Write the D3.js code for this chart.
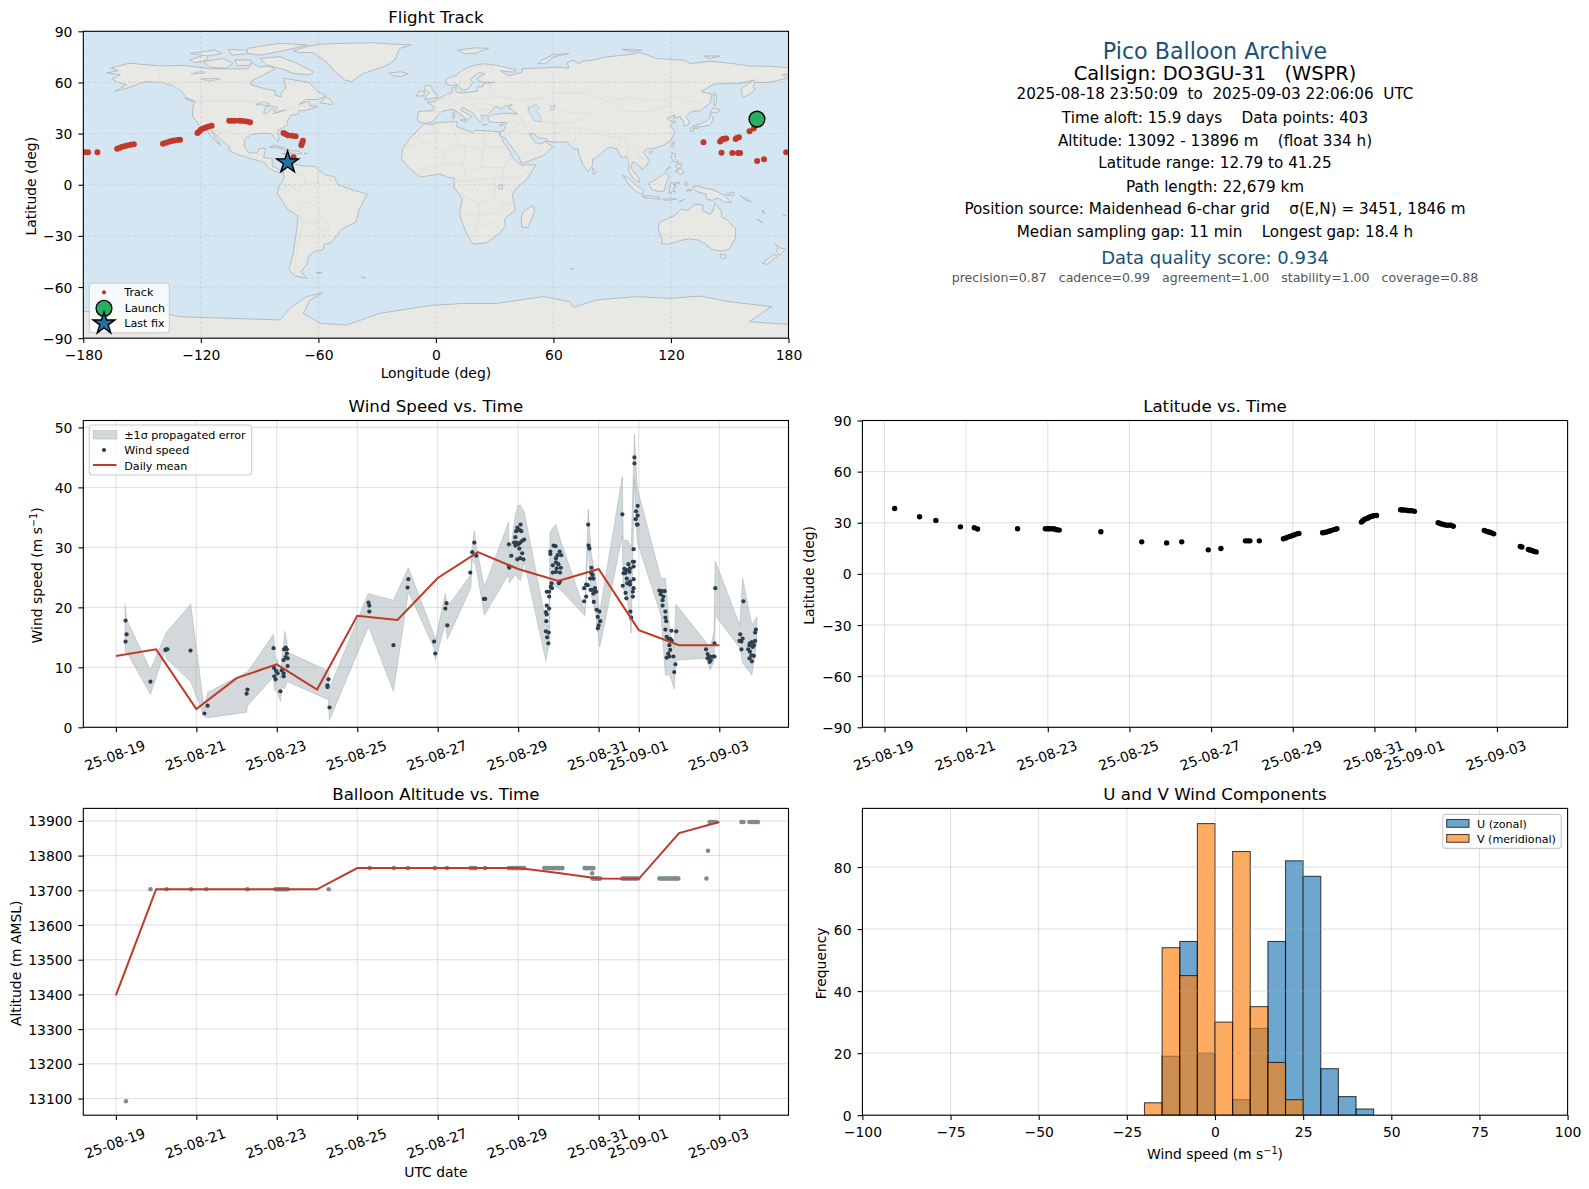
<!DOCTYPE html>
<html><head><meta charset="utf-8">
<script src="https://cdn.jsdelivr.net/npm/d3@7/dist/d3.min.js"></script>
<style>html,body{margin:0;padding:0;background:#fff}svg{display:block}text{font-family:"DejaVu Sans",sans-serif;fill:#000}</style>
</head><body><svg id="c" width="1589" height="1189" xmlns="http://www.w3.org/2000/svg"></svg>
<script>
// ---------- data ----------
const infoLines = [
 ["Pico Balloon Archive",22.2,"#1a5276"],
 ["Callsign: DO3GU-31   (WSPR)",19.4,"#000"],
 ["2025-08-18 23:50:09  to  2025-09-03 22:06:06  UTC",15.2,"#000"],
 ["Time aloft: 15.9 days    Data points: 403",15.2,"#000"],
 ["Altitude: 13092 - 13896 m    (float 334 h)",15.2,"#000"],
 ["Latitude range: 12.79 to 41.25",15.2,"#000"],
 ["Path length: 22,679 km",15.2,"#000"],
 ["Position source: Maidenhead 6-char grid    σ(E,N) = 3451, 1846 m",15.2,"#000"],
 ["Median sampling gap: 11 min    Longest gap: 18.4 h",15.2,"#000"],
 ["Data quality score: 0.934",18,"#1a5276"],
 ["precision=0.87   cadence=0.99   agreement=1.00   stability=1.00   coverage=0.88",12.55,"#555"]
];
const dateTicks = ["2025-08-19","2025-08-21","2025-08-23","2025-08-25","2025-08-27","2025-08-29","2025-08-31","2025-09-01","2025-09-03"];
const lonTicks = [-180,-120,-60,0,60,120,180];
const latTicks = [-90,-60,-30,0,30,60,90];
const windTicks = [0,10,20,30,40,50];
const altTicks = [13100,13200,13300,13400,13500,13600,13700,13800,13900];
const histXTicks = [-100,-75,-50,-25,0,25,50,75,100];
const histYTicks = [0,20,40,60,80];

const landPolygons = [
 // Eurasia
 [[-9,37],[-9.5,38.8],[-8.8,43],[-1.5,43.5],[-1,46],[-4.5,48.4],[-1.5,48.7],[1.5,50.5],[4,52],[6,53.5],[8.5,54],[8.2,56.5],[10.5,57.7],[10,55],[11,54],[14,54],[19,54.5],[21,55],[21.5,57.5],[24,57.5],[24,59.4],[30,60],[25,60.2],[21.5,60.8],[21.5,63],[25,65],[22,65.8],[17.5,62],[18.8,60],[16.5,56.5],[14.3,55.5],[12.8,55.8],[11,59],[8,58],[5.5,59],[5,62],[10,64],[14,67.5],[19,70],[25,71],[31,70],[41,67.5],[40,66],[35,66.5],[33,66.8],[37,64],[40,64.7],[44,66],[44,68],[54,68.5],[60,69],[68,68.5],[67,71.5],[70,73],[73,71],[75,72.5],[80,73],[87,75],[100,76.5],[104,77.7],[113,74],[127,73],[130,71],[140,72.5],[152,71],[160,69.7],[170,69.5],[178,68.8],[181,68.5],[181,65],[177,64.5],[179.5,62.5],[170,60],[163,60],[162,57.5],[163,56],[160,53],[156.8,51],[155.7,56],[159,59],[163,61.5],[155,59.5],[150,59.5],[142,59],[135.5,54.7],[141,53],[140,48],[135,43.5],[132,43],[130,42.5],[127.5,39.8],[129.4,37],[129,35.2],[126.5,34.5],[126.5,37.5],[125,38.5],[125,40],[121.5,39],[122,41],[118,39],[119.5,37.5],[122.5,37],[119.5,35],[122,31],[120,26],[116,23],[110,21],[108,21.5],[106,19],[109,14],[107,10.5],[105,8.8],[104.9,10],[102,12.5],[100.5,13.5],[99.5,10],[103.5,4],[104,1.3],[101,3],[98.5,8],[98.5,13],[97.5,16.5],[94.5,16],[92.5,21],[89,22],[87,21],[82.5,16.5],[80,15],[79.8,10.5],[77.5,8],[75,12],[73,18],[72.5,21],[70.5,21],[69,22.5],[67,25],[61.5,25],[57,25.5],[56.5,27],[52,27.5],[50,30],[48,30],[48.5,28.5],[50.5,25],[51.5,24.5],[54,24],[56.4,26],[56.5,24.5],[59.8,22.5],[55.5,17.5],[52,16],[45,12.8],[43.3,12.8],[42.5,16.5],[39,21.5],[35,28],[34.5,28],[33.5,28],[32.6,30],[32.5,31],[34.5,31.5],[36,36.5],[30.5,36.5],[27,37],[26.5,39.5],[29,41],[35,42],[41.5,41.5],[39,44],[37,45],[39,47],[35,46],[33.5,44.5],[30.5,46],[28,43],[26,40.5],[23,40.5],[24,38],[22.5,36.5],[19.5,41],[19,42],[13.5,45.5],[12.5,44],[18.5,40],[16,38],[12,42],[8.8,44.3],[3,43],[0,39.5],[-2,36.8],[-5.5,36]],
 // Africa
 [[-6,35.8],[-10,31],[-13,27.5],[-17,21],[-17.5,14.7],[-13,9],[-8,4.5],[-4,5.2],[2,6.3],[6,4.3],[9.5,4],[9,-1],[13.5,-8],[12,-17],[15,-27],[18.5,-34.3],[20,-34.8],[26,-34],[32.5,-28.5],[35.5,-24],[35,-20],[40.5,-15],[39,-6],[41.5,-1.5],[47,4],[51,11.8],[43.5,11.5],[39.5,15.5],[37.5,20],[35,24],[33,28.5],[32.5,30],[32.5,31],[25,31.7],[20,32],[19,30.3],[15,32.3],[10.5,34],[11,37],[1,36.5],[-2,35.2]],
 // North America
 [[-168,65.6],[-162,67],[-166,68.5],[-156.5,71.3],[-141,69.7],[-128,70],[-115,68],[-108,68],[-96,68],[-94,71.5],[-90,69],[-85,69.5],[-82,68],[-87,65],[-94,61],[-94.5,58.7],[-88,56.5],[-82,55],[-82,52.5],[-79,51.5],[-79,54.5],[-76.5,56.5],[-78,62.5],[-70,61],[-65,60],[-60.5,55],[-56,52],[-60,50],[-66.5,50],[-70,47],[-65,49],[-64.5,46.5],[-60.5,46],[-66,43.7],[-70,43.5],[-70,41.7],[-74,40.5],[-76,37],[-75.5,35.3],[-81,31.5],[-80,26.8],[-80.5,25.2],[-82.7,28],[-84,30],[-89,30.3],[-94,29.5],[-97.5,27],[-97.8,22.5],[-95.5,18.7],[-91,18.7],[-90.5,21],[-87,21.5],[-88,16],[-83.5,15.2],[-83.5,11],[-80,9],[-77.5,8.5],[-78,7.5],[-80,7.3],[-83,8.3],[-85.7,10],[-87.5,13],[-92,14.5],[-96,15.8],[-102,18],[-105.5,20.3],[-105.5,22.5],[-109,25.7],[-112.5,29.5],[-114.7,31.7],[-112,26.5],[-109.5,23],[-112,25],[-115.5,29.5],[-117.2,32.5],[-120.5,34.5],[-122.5,37.7],[-124.3,40.3],[-124,46],[-123,49],[-127.5,51],[-130,55],[-134,58],[-140,60],[-148,60.5],[-152,59],[-158,56.5],[-164,54.7],[-158,58.7],[-162,60],[-165.5,62],[-161,64.5]],
 // South America
 [[-77.5,8.5],[-75.5,11],[-72,12],[-68,11],[-62,10.7],[-57,6],[-52,4.8],[-50,0],[-44,-2.5],[-35,-5.5],[-39,-14],[-41,-22],[-48,-26],[-53.5,-34],[-57,-35],[-57.5,-38],[-62,-39],[-65,-42],[-66,-47],[-69,-51],[-65.5,-55],[-72,-53.5],[-75,-50],[-73,-41],[-71.5,-30],[-70.3,-18.5],[-76,-14],[-81,-5],[-80,-1],[-78.5,2],[-77.5,4],[-78,7.5]],
 // Greenland and Arctic islands
 [[-72.8,78.6],[-66,81],[-59,82.5],[-45.6,83],[-32,83.3],[-21.8,82.5],[-12.5,82],[-18.4,80],[-21,73.2],[-23.5,71.2],[-26,69.6],[-37,65.3],[-43,60.5],[-46.5,61.4],[-52.4,67.3],[-55,71.2],[-62.6,77.5],[-69.4,77.5]],
 [[-89.8,74.1],[-79.6,75.1],[-71.1,71.2],[-62.6,66.3],[-64.3,64.4],[-72.8,65.3],[-77.9,67.7],[-86.4,70.2]],
 [[-118.8,72.2],[-108.6,74.1],[-103.5,71.2],[-106.9,68.3],[-115.4,68.9]],
 [[-125.5,73.2],[-116.2,77],[-117,73.2],[-123,71.6]],
 [[-96,80],[-79.6,83],[-66,82],[-76.2,79],[-89.8,76],[-96.6,77.1]],
 [[-125.5,77],[-112.8,79],[-109.4,77],[-116.2,75.5]],
 [[-105.9,79.4],[-97.3,79],[-95.6,77],[-104.2,76]],
 [[-102.8,73.2],[-94.3,73.2],[-94.3,70.2],[-101,69.7]],
 [[-59,48],[-53,47],[-53,49],[-56,51.5]],
 [[-128,50.5],[-124,48.5],[-125.5,50.5]],
 // Iceland, British Isles, Svalbard, Novaya Zemlya, Sakhalin
 [[-24,65.5],[-18,66.3],[-14,65],[-18,63.5],[-22.5,64]],
 [[-5.5,50],[1,51.2],[0,53],[-2,56],[-2,57.6],[-5,58.6],[-6,56],[-3,54],[-5,52]],
 [[-10,52],[-6,52.2],[-6,55],[-9,54.5]],
 [[11,79],[20,80.3],[27,80],[20,77],[15,76.8]],
 [[52,71],[56,71],[60,75],[68,77],[60,76.3],[54,73]],
 [[142,54],[143.5,52],[143,47],[142,46.5],[142,50]],
 [[95,79.5],[105,79],[100,78]],
 [[137,75.5],[145,75.5],[140,74]],
 // Japan and east Asia islands
 [[140,41.5],[141.5,40],[141,37],[139.8,35],[136,34],[132,34],[131,34.5],[135,35.8],[138,37.2],[139.8,39]],
 [[140,42.5],[141.8,45.3],[145.3,43.5],[143,42]],
 [[130,33.5],[132,33],[131,31],[130,31.5]],
 [[132.5,33.8],[134.5,34.2],[134,33],[132.5,33]],
 [[120.2,23],[121,25],[122,25],[121,22]],
 [[108.7,19],[110,20],[111,19.5],[109.5,18.2]],
 [[120.3,16],[120.7,18.5],[122.2,18.3],[122,15.5],[124,13],[121,13.7]],
 [[122,8],[125.5,9.5],[126.5,7],[125.5,5.8],[124,7]],
 [[122.5,11.5],[125.5,12.5],[125,10],[123,9.5]],
 [[117.2,8.5],[119.5,11],[119,10],[118,8.5]],
 // Indonesia and Oceania
 [[95.3,5.5],[98,4],[103,-1],[106,-3],[105.5,-5.8],[102,-4],[99,-0.5]],
 [[105.5,-6.5],[110,-6.5],[114.5,-7.7],[114.3,-8.6],[110,-8],[106,-7.4]],
 [[109,1.5],[111,2],[114,4.5],[117,7],[119,5],[117.7,1],[116.5,-3.5],[114.5,-4],[110.5,-3],[109,-0.5]],
 [[119.5,-5.5],[119,-3],[120,1],[124.5,1.2],[121,0],[123,-1],[121,-2],[122.5,-4.7],[121,-3.5]],
 [[116,-8.3],[120,-8.3],[123,-8.3],[120,-9],[116,-9]],
 [[124,-10],[127,-8.4],[124.5,-9.5]],
 [[127.5,2],[128.5,1],[128,-1],[127.5,0]],
 [[128,-3],[130.8,-3],[128,-3.8]],
 [[131,-1],[134,-0.8],[137,-2],[141,-2.7],[146,-5.5],[147.5,-6.5],[150.8,-10.5],[147,-10],[144,-7.7],[141,-9.2],[138,-8.3],[138,-5.5],[133,-4],[132,-2.8]],
 [[148,-5.7],[152,-4.2],[152,-6],[149,-6.2]],
 [[155,-6],[156,-7],[159,-8.5],[161,-10],[158,-9]],
 [[166.5,-15],[167.2,-15.5],[168,-17],[167,-16.5]],
 [[164,-20],[167,-22.3],[166,-22],[164,-20.5]],
 [[114,-22],[113.5,-26],[115.7,-32],[115,-34.3],[118,-35],[124,-33],[129,-31.7],[134,-32.5],[138,-35],[141,-38],[146,-39],[150,-37.5],[153,-31],[153,-26],[149,-21],[146,-19],[145.5,-15],[142.5,-10.8],[141.5,-15],[140,-17.5],[136,-15],[136.5,-12],[132,-11.3],[129,-15],[125,-14.5],[122,-18],[117,-20.5]],
 [[145,-41],[148,-41],[148,-43],[146,-43.5]],
 [[172.8,-34.5],[175.5,-37],[178.5,-37.7],[175.5,-41.5],[174,-39.5],[174.7,-37]],
 [[172.8,-40.7],[174.3,-41.7],[171,-45],[169,-46.7],[166.5,-46],[170,-43]],
 [[177.5,-17.5],[178.5,-18],[177.3,-18.2]],
 [[44,-25],[47,-25],[50.5,-15.5],[49.5,-12],[44.5,-16],[43.5,-21]],
 [[80,9.7],[81.8,7.5],[80.5,6],[79.8,8]],
 // Caribbean
 [[-85,22],[-82,23.2],[-75,20.7],[-74.2,20.2],[-77.5,19.9],[-78,21],[-82,22]],
 [[-74.5,18.5],[-73,19.9],[-70,19.8],[-68.4,18.6],[-71,18],[-72,18.2]],
 [[-78.3,18.4],[-76.3,18.1],[-77.5,17.8]],
 [[-67.2,18.5],[-65.7,18.4],[-67,18]],
 // Mediterranean islands
 [[12.5,38],[15.6,38.2],[15,36.7]],[[8.3,41],[9.7,41],[9.5,39],[8.5,39]],[[8.7,42.5],[9.5,43],[9.4,41.5]],
 [[23.6,35.5],[26.3,35.3],[24,35]],[[32.4,35],[34.5,35.7],[33.5,34.6]],
 // Falklands, Kerguelen, South Georgia
 [[-61,-51.5],[-58,-51.3],[-59.5,-52.3]],[[69,-49],[70.5,-49.2],[69.5,-50]],[[-38,-54],[-36,-54.5],[-37,-54.7]],
 // Antarctica
 [[-181,-74.4],[-142.6,-74.4],[-130.7,-77.4],[-79.6,-79.3],[-74.5,-72.5],[-66,-65.6],[-57.5,-63.3],[-64.3,-67.6],[-67.7,-75.4],[-59,-81.3],[-45.6,-82.3],[-28.5,-75.4],[-3,-70.8],[14,-69.6],[31,-69.6],[55,-65.6],[68.4,-68.6],[70,-71.9],[82,-67.6],[102.4,-65.6],[119.5,-66.6],[134.8,-65.3],[150,-68.6],[171.4,-71.5],[160,-80.3],[181,-82],[181,-91],[-181,-91]]
];
const lakePolygons = [
 [[47,45],[51,47],[53,45],[51,43],[53,41],[54,37],[50,37.5],[49,40],[47.5,43]],
 [[-92,47],[-88,48.7],[-85,47.7],[-85,46.5],[-88,46.7]],
 [[-88,42],[-87,46],[-85,46],[-84,46],[-81,45.5],[-82,43],[-84,44.5],[-86,42]],
 [[-83.3,41.7],[-79,42.9],[-79,43.3],[-76.5,43.7],[-79.5,43.5],[-81,42.7]],
 [[-120,62],[-112,62.5],[-110,62],[-116,60.8]],
 [[-125,65],[-119,66.8],[-118,65.5]],
 [[31.8,-0.5],[34,0.3],[34,-2.5],[32,-2.5]],
 [[58.5,46.5],[61,46.5],[60,44],[58.5,44]]
];
const borderLines = [
 [[-123,49],[-95,49],[-89,48],[-83,46],[-82.5,42],[-79,43],[-75,45],[-71,45],[-67.5,47],[-67,45]],
 [[-141,69.7],[-141,60],[-135,59],[-130,55]],
 [[-117,32.5],[-111,31.3],[-106.5,31.7],[-101,29.5],[-97.3,26]],
 [[-92,14.5],[-91,17.5],[-89,18]],[[-88,16],[-89,14],[-87.5,13]],[[-83.5,15],[-85,11]],
 [[-72,12],[-72,7],[-67.5,6],[-67,1.5]],[[-70,-4],[-75,0],[-78.5,1]],
 [[-60,10],[-60,5],[-60,1],[-67,1.5],[-70,-4],[-74,-8],[-70,-11],[-65,-10],[-60,-14],[-58,-20],[-55,-24],[-54,-26],[-58,-30],[-53.5,-33]],
 [[-69.5,-17.5],[-68,-23],[-70,-33],[-72,-45],[-72,-52]],
 [[-70,-11],[-69.5,-17.5],[-66,-22],[-62,-22],[-58,-20]],[[-80,-3.5],[-75,0]],
 [[-57,6],[-58,1.5]],[[-54,5.5],[-54,2]],[[-62,-22],[-58,-27],[-54,-26]],
 [[-13,27.5],[-8.7,27.5],[-1,32],[-2,35]],[[-8.7,27.5],[4,19],[12,23.5],[9.5,30],[8,36.8]],
 [[12,23.5],[25,20],[25,31.7]],[[25,22],[37,22]],[[-17,21],[-5,25]],
 [[4,19],[3.5,12],[-5,10],[-8,8],[-8,4.5]],[[3.5,12],[14,13],[15,23]],[[14,13],[9,4]],
 [[24,20],[23,10],[15,8],[14,13]],[[23,10],[35,10],[37,15],[39,15]],[[35,10],[34,4],[42,4],[47,8]],
 [[15,8],[14,2],[9.5,2]],[[14,2],[30,4],[34,4]],[[30,4],[30,-8],[22,-11],[13,-6]],
 [[34,4],[34,-1],[40,-4.5]],[[30,-8],[35,-11],[40.5,-11]],[[22,-11],[22,-18],[12,-17]],
 [[22,-18],[20,-28],[17,-29]],[[22,-18],[33,-16],[35,-11]],[[20,-25],[29,-22],[32,-26]],
 [[28,60],[28,56],[31,52],[40,50],[47,50],[47,42]],
 [[47,50],[55,51],[62,54],[77,54],[87,49],[98,51],[107,50],[117,50],[120,53],[127,50],[135,48],[131,43]],
 [[87,49],[97,43],[110,43],[120,47],[117,50]],
 [[87,49],[80,42],[74,39],[78,33],[82,30],[88,28],[97,28],[98,24],[102,22],[108,21.5]],
 [[53,42],[61,44],[70,42],[80,42]],[[44,39],[46,33],[48,30]],[[61,36],[61,25]],
 [[54,37],[61,36],[71,37],[74,39]],[[61,30],[71,34],[74,33],[70,24]],
 [[92.5,21],[95,28]],[[98,24],[98,16],[99,10]],[[102,22],[105,15],[102,12.5]],[[107,15],[102,18]],
 [[36,29.5],[39,32],[47,29.5],[48,28.5]],[[43,16.5],[52,19],[55,22],[52,24]],
 [[36,36.7],[44,37],[44,40],[41.5,41.5]],[[36,33],[41,34],[44,37]],
 [[2,51],[6,50],[8,48],[7,44]],[[-1.5,43.5],[3,42.5]],[[6,53.5],[7,50]],
 [[14,54],[15,51],[12,48.5],[8,47.5]],[[15,51],[24,50],[30,52]],[[14,46.5],[24,48],[30,46]],
 [[19,42],[22,44],[28,44]],[[22,41],[26,41]],[[12,59],[13,64],[20,69],[28,70]],[[28,70],[30,62]]
];

const trackLon = [164,163.2,162.3,160.1,154.7,153.6,153,148.2,147.3,146.5,145.8,145.1,136.6,145.8,151.3,154.2,155.3,164,167.5,178.8,
 -179.3,-177.6,-172.8,-162.7,-161.5,-160.5,-159,-157.6,-155.8,-154.2,-139.3,-137.8,-136.2,-135,-133.7,-132,-130.6,
 -121.7,-120.8,-120,-118.8,-117.4,-116,-114.5,-105.5,-104,-102.5,-100.3,-98.5,-96.5,-94.9,
 -77.8,-76.8,-75.6,-73.5,-71.6,-67.9,-68.3,-68.7,-72.7];
const trackLat = [38.5,35,33,31.4,27.9,27.4,26.8,27.1,27,26.8,26.2,25.4,25,18.8,18.6,18.6,18.6,13.9,15,19,
 19.1,19.1,19.1,21.1,21.6,22.1,22.6,23,23.4,23.8,24,24.6,25.2,25.6,26,26.2,26.4,
 30.3,31.2,32.2,33,33.6,34.2,34.6,37.5,37.5,37.5,37.5,37.4,37.1,36.7,
 30.3,29.7,29.1,28.8,28.5,25.8,24.5,23.2,16.2];
const launchPos = [163.9,38.5];
const lastFixPos = [-75.7,13.1];

const windT = [.24,.265,.24,.86,1.23,1.28,1.25,1.855,2.2,2.28,3.25,3.27,3.92,3.93,3.98,4.02,3.94,3.97,4.09,4.12,4.17,4.18,4.22,4.25,4.25,4.22,4.27,4.27,4.17,4.17,5.285,5.26,5.26,5.31,6.28,6.3,6.3,6.9,7.27,7.25,
 7.91,7.94,8.19,8.22,8.24,8.81,8.86,8.91,8.96,9.15,9.18,9.77,9.77,9.78,9.83,
 10.06,9.98,10.03,10.08,9.95,9.93,9.9,9.95,10,10.05,10.1,10.15,9.93,10.03,10.1,9.98,10.05,10.13,
 10.71,10.77,10.69,10.71,10.7,10.69,10.76,10.72,10.75,10.77,10.71,10.77,10.84,10.81,10.83,11.01,11.04,10.8,10.8,10.88,10.93,11.03,10.98,11.07,10.94,10.94,10.86,11,11.06,10.86,10.94,11.04,10.96,
 11.74,11.75,11.77,11.82,11.82,11.85,11.79,11.87,11.69,11.73,11.64,11.8,11.87,11.91,11.94,11.87,11.69,11.64,11.88,11.95,12.02,11.98,12.04,12,11.98,
 12.59,12.89,12.89,12.97,12.93,12.97,12.92,12.95,12.97,12.87,12.88,12.87,12.74,12.78,12.85,12.64,12.7,12.66,12.77,12.62,12.7,12.87,12.78,12.71,12.6,12.78,12.87,12.85,12.67,12.85,12.69,12.79,12.81,
 13.51,13.57,13.64,13.54,13.61,13.59,13.59,13.66,13.66,13.68,13.66,13.81,13.93,13.69,13.73,13.79,13.82,13.76,13.78,13.73,13.69,13.76,13.86,13.91,13.88,
 14.9,14.88,14.67,14.71,14.84,14.76,14.71,14.79,14.76,14.88,
 15.6,15.52,15.58,15.5,15.55,15.55,15.91,15.89,15.89,15.81,15.76,15.86,15.75,15.83,15.72,15.76,15.8,15.86,15.75,15.81];
const windV = [17.8,15.5,14.3,7.6,12.9,13,13,12.8,2.3,3.6,5.6,6.3,13.2,9.9,9.4,9,8.5,8,6,9.5,11.2,13,13.3,13,12.3,11.7,11.5,10.2,9,8.5,8,7,6.7,3.3,20.8,20.3,19.3,13.7,24.7,23.3,
 14.3,12.3,19.8,20.7,17,25.8,29.2,30.8,28.6,21.4,21.4,30.5,26.8,26.6,28.6,
 33.8,33.3,32.9,32.7,32.7,31.7,30.8,30.8,30.5,30.8,31.1,31.3,30.3,29.8,29,28,28.2,28,
 20.3,19.8,19.2,18.8,17.7,16,15.8,15,14,21.8,22.6,22.6,23.2,23.4,24,24,24.3,29.3,28.9,30.3,30.2,29.3,28.7,28.7,28.2,27.5,27,27.2,26.6,25.8,25.9,25.8,26.5,
 33.8,30.3,29.8,26.6,25.7,25.4,24.8,24.8,23.8,23.7,23.2,22.9,22.9,23.2,22.6,22.3,21.8,21,20.9,19.6,19.3,18.4,17.7,17,16.5,
 35.5,45,44,36.9,36,35.3,34.7,33.8,33.8,29.7,27.6,26.8,27.2,26.5,27.6,26.4,26.2,25.7,25.9,25.7,24.8,24.7,24.3,24,23.6,23.8,23.2,22.6,22.4,21.8,21.5,19.3,18.3,
 22.8,22.7,22.7,22.2,21.8,21.2,20.3,19.3,18.3,17.7,16.3,16.1,16,15.1,14.8,14.7,14.4,13.7,12.9,12.3,11.6,11.8,11.8,10.5,9.2,
 23.2,14,13,12.2,11.8,11.8,11.5,11.2,10.9,11.8,
 21,15.5,14.8,14.4,14.3,13,16.3,15.8,14.4,14.2,14,13.7,13.7,13.4,13,12.6,12,11.9,11.5,11];

const bandT = [.23,.27,.86,1.23,1.25,1.86,2.2,2.28,3.25,3.27,3.92,3.94,3.97,4.02,4.09,4.12,4.17,4.2,4.25,4.27,5.28,5.31,6.28,6.3,6.9,7.27,7.91,7.94,8.19,8.24,8.82,8.86,8.91,8.96,9.16,9.76,9.78,9.93,10,10.06,10.15,10.69,10.76,10.78,10.79,10.88,10.94,11.06,11.66,11.74,11.82,11.92,11.98,12.03,12.59,12.61,12.72,12.81,12.89,12.96,13.55,13.66,13.77,13.88,13.92,14.69,14.77,14.87,14.9,15.51,15.58,15.81,15.93];
const bandHi = [20.4,17.9,9.6,15.4,15.8,20.5,2.9,5.8,9.2,9.2,15.5,13.2,11.2,11.2,8.2,11.5,13.7,16,14.3,12.5,9.4,6.5,22.4,22.2,21.2,26.6,15.4,14.4,22.3,20.1,25.4,30.4,32.8,30.1,23.4,34.2,28.2,35.4,37,37,35.9,17.6,16.5,23.2,32.5,33.4,33.8,31,19.3,36.4,28.7,25.4,21,19.3,41.8,31.2,31.2,30.1,48.8,39.9,24.8,24.8,15.9,13.2,20.5,14,13.2,16,27.7,17,24.8,17,18.4];
const bandLo = [12.6,12.5,5.5,12.9,11.5,7.6,1.8,1.6,2.5,3.6,8.4,6.2,6.4,5.7,4.3,6.8,6.5,6.5,7.6,7.6,4.6,1.2,16.8,16.5,6,22.6,13.2,11.2,17.3,14.7,23.2,27.9,27.6,26.5,18.7,25.5,24.1,25.4,24.8,24.5,27.6,11,13.7,13.7,22.9,23.7,23.4,22.9,18.6,31,21.8,19.3,16,13.4,32,23.2,21.2,15.7,41.5,30.9,18.7,8.7,8.7,6.4,11.2,11.5,9.5,11,18.7,13.2,10.7,8.7,14.3];

const dailyDays = [0,1,2,3,4,5,6,7,8,9,10,11,12,13,14,15];
const dailyWind = [11.9,13,3.05,8.2,10.5,6.3,18.6,17.9,24.9,29.2,26.4,24.4,26.4,16.2,13.7,13.7];
const dailyAlt = [13397,13703,13703,13703,13703,13703,13764,13764,13764,13764,13764,13750,13734,13733,13865,13897];

const latT = [.25,.86,1.26,1.86,2.2,2.28,3.26,3.94,3.99,4.03,4.08,4.14,4.18,4.22,4.28,5.3,6.3,6.91,7.28,7.93,8.24,8.84,8.9,8.95,9.18,
 9.77,9.83,9.88,9.93,9.99,10.04,10.1,10.15,10.73,10.77,10.81,10.87,10.92,10.97,11.03,11.08,
 11.68,11.71,11.74,11.78,11.83,11.86,11.9,11.94,11.98,12.05,12.64,12.68,12.72,12.78,12.83,12.87,12.92,12.98,
 13.56,13.61,13.66,13.71,13.76,13.81,13.87,13.93,14.69,14.73,14.78,14.82,14.86,14.92,15.57,15.61,15.77,15.81,15.85,15.9,15.96];
const latV = [38.4,33.5,31.4,27.6,27.1,26.3,26.5,26.5,26.5,26.5,26.5,26.5,26.2,25.9,25.7,24.7,18.8,18.2,18.8,14.1,14.9,19.4,19.4,19.4,19.4,
 20.6,21.1,21.6,22,22.5,23,23.5,23.7,24.1,24.3,24.5,24.9,25.3,25.7,26.1,26.5,
 30.4,31.1,31.8,32.2,32.7,33.1,33.5,33.8,34.1,34.3,37.6,37.5,37.5,37.3,37.1,37.1,37.1,36.7,
 30,29.6,29.2,28.9,28.6,28.6,28.6,28,25.5,25.1,24.7,24.4,24.1,23.5,16.1,15.8,14.3,14,13.7,13.3,12.9];

const altLevels = [13092,13703,13764,13749,13734,13814,13897];
const altTimes = [
 [.25],
 [.86,1.26,1.87,2.25,3.27,3.97,4.01,4.05,4.08,4.12,4.16,4.19,4.23,4.27,5.29],
 [6.31,6.91,7.26,7.93,8.23,8.82,8.88,8.94,9.18,9.77,9.81,9.85,9.88,9.92,9.96,9.99,10.03,10.07,10.1,10.15,10.65,10.69,10.72,10.76,10.8,10.84,10.88,10.92,10.96,11,11.03,11.07,11.1,11.65,11.69,11.72,11.76,11.8,11.84,11.87],
 [11.84],
 [11.85,11.88,11.92,11.95,11.98,12.01,12.04,12.59,12.63,12.66,12.7,12.74,12.78,12.82,12.86,12.9,12.94,12.98,13.51,13.55,13.6,13.64,13.68,13.72,13.76,13.8,13.84,13.88,13.92,13.95,13.98,14.68],
 [14.72],
 [14.76,14.8,14.84,14.88,14.92,15.55,15.6,15.75,15.79,15.82,15.86,15.9,15.93,15.96]
];

const histEdges = [-20,-15,-10,-5,0,5,10,15,20,25,30,35,40,45];
const histU = [0,19,56,20,0,5,28,56,82,77,15,6,2];
const histV = [4,54,45,94,30,85,35,17,5,0,0,0,0];

// ---------- layout ----------
const svg = d3.select("#c");
const C = {red:"#c0392b", dark:"#2c3e50", grey:"#7f8c8d", band:"#95a5a6", ocean:"#d4e6f1", land:"#e8e8e4", coast:"#b4bcc2", border:"#dcdcd8", grid:"#b0b0b0"};
const col = [[83.3,788.5],[862.4,1567.6]];
const row = [[31.3,338.2],[420.5,727.3],[808.4,1115.2]];
const DAY = 864e5, T0 = Date.UTC(2025,7,19);
const toDate = d => new Date(T0 + d*DAY);
const dateVals = dateTicks.map(s => new Date(s+"T00:00:00Z"));
const fmtDate = d3.utcFormat("%y-%m-%d");
const FS = 13.9;
const minus = d => String(d).replace("-","−");
let clipId = 0;

function panel(c,r,title,xScale,yScale,xTicks,yTicks,xFmt,yFmt,rot){
  const [l,R] = col[c], [t,b] = row[r];
  const id = "clip"+(clipId++);
  svg.append("clipPath").attr("id",id).append("rect").attr("x",l).attr("y",t).attr("width",R-l).attr("height",b-t);
  const g = svg.append("g");
  const under = g.append("g").attr("clip-path",`url(#${id})`);
  const gridG = g.append("g").attr("clip-path",`url(#${id})`);
  const over = g.append("g").attr("clip-path",`url(#${id})`);
  const frame = g.append("g");
  const drawGrid = (dash,color,op,w)=>{
    xTicks.forEach(v=>gridG.append("line").attr("x1",xScale(v)).attr("x2",xScale(v)).attr("y1",t).attr("y2",b));
    yTicks.forEach(v=>gridG.append("line").attr("y1",yScale(v)).attr("y2",yScale(v)).attr("x1",l).attr("x2",R));
    gridG.selectAll("line").attr("stroke",color).attr("stroke-opacity",op).attr("stroke-width",w).attr("stroke-dasharray",dash);
  };
  const xa = frame.append("g").attr("transform",`translate(0,${b})`).call(d3.axisBottom(xScale).tickValues(xTicks).tickFormat(xFmt).tickSize(4.9).tickPadding(6.6));
  const ya = frame.append("g").attr("transform",`translate(${l},0)`).call(d3.axisLeft(yScale).tickValues(yTicks).tickFormat(yFmt).tickSize(4.9).tickPadding(6));
  [xa,ya].forEach(a=>{a.select(".domain").remove();a.selectAll("line").attr("stroke","#000").attr("stroke-width",1.1);a.selectAll("text").attr("font-size",FS).attr("font-family","DejaVu Sans").attr("fill","#000");});
  ya.selectAll("text").attr("dy","0.36em");
  if(rot){
    xa.selectAll("text").attr("dy",null).attr("y",null).attr("text-anchor","middle").attr("dominant-baseline","central")
      .attr("transform",`translate(-1.4,${rot.dy}) rotate(-20)`);
  }
  frame.append("rect").attr("x",l).attr("y",t).attr("width",R-l).attr("height",b-t).attr("fill","none").attr("stroke","#000").attr("stroke-width",1.1);
  frame.append("text").attr("x",(l+R)/2).attr("y",t-8.5).attr("text-anchor","middle").attr("font-size",16.67).text(title);
  return {under,over,frame,drawGrid,l,R,t,b};
}
function xlabel(p,y,txt,sup){
  const n=p.frame.append("text").attr("x",(p.l+p.R)/2).attr("y",y).attr("text-anchor","middle").attr("font-size",FS).text(txt);
  if(sup) addSup(n);
}
function ylabel(p,x,txt,sup){
  const n=p.frame.append("text").attr("transform",`translate(${x},${(p.t+p.b)/2+1.5}) rotate(-90)`).attr("text-anchor","middle").attr("font-size",FS).text(txt);
  if(sup) addSup(n);
}
function addSup(n){
  n.append("tspan").attr("dy",-5).attr("font-size",9.7).text("−1");
  n.append("tspan").attr("dy",5).text(")");
}
function legendBox(p,x,y,w,h){
  p.frame.append("rect").attr("x",x).attr("y",y).attr("width",w).attr("height",h).attr("rx",3).attr("fill","#fff").attr("fill-opacity",.8).attr("stroke","#ccc").attr("stroke-width",1.1);
}
function legendText(p,x,y,s){
  p.frame.append("text").attr("x",x).attr("y",y).attr("font-size",11.1).attr("dominant-baseline","central").text(s);
}

// ---------- map ----------
{
  const x = d3.scaleLinear().domain([-180,180]).range(col[0]);
  const y = d3.scaleLinear().domain([-90,90]).range([row[0][1],row[0][0]]);
  const p = panel(0,0,"Flight Track",x,y,lonTicks,latTicks,minus,minus);
  const line = d3.line().x(d=>x(d[0])).y(d=>y(d[1]));
  p.under.append("rect").attr("x",p.l).attr("y",p.t).attr("width",p.R-p.l).attr("height",p.b-p.t).attr("fill",C.ocean);
  p.under.append("g").selectAll("path").data(landPolygons).join("path").attr("d",d=>line(d)+"Z").attr("fill",C.land).attr("stroke",C.coast).attr("stroke-width",1).attr("stroke-linejoin","round");
  p.under.append("g").selectAll("path").data(borderLines).join("path").attr("d",line).attr("fill","none").attr("stroke",C.border).attr("stroke-width",.8);
  p.under.append("g").selectAll("path").data(lakePolygons).join("path").attr("d",d=>line(d)+"Z").attr("fill",C.ocean).attr("stroke",C.coast).attr("stroke-width",.8);
  p.drawGrid("2.5,2.5","#999",.35,.8);
  p.over.append("g").selectAll("circle").data(trackLon).join("circle").attr("cx",d=>x(d)).attr("cy",(d,i)=>y(trackLat[i])).attr("r",3).attr("fill",C.red);
  p.over.append("circle").attr("cx",x(launchPos[0])).attr("cy",y(launchPos[1])).attr("r",7.9).attr("fill","#27ae60").attr("stroke","#000").attr("stroke-width",1.4);
  const star = d3.symbol().type(d3.symbolStar).size(150)();
  p.over.append("path").attr("d",star).attr("transform",`translate(${x(lastFixPos[0])},${y(lastFixPos[1])})`).attr("fill","#2471a3").attr("stroke","#000").attr("stroke-width",1.4);
  legendBox(p,89.3,283.3,80,49.4);
  p.frame.append("circle").attr("cx",104).attr("cy",292.3).attr("r",2.1).attr("fill",C.red);
  p.frame.append("circle").attr("cx",104).attr("cy",308.3).attr("r",7.9).attr("fill","#27ae60").attr("stroke","#000").attr("stroke-width",1.4);
  p.frame.append("path").attr("d",star).attr("transform","translate(104,323.5)").attr("fill","#2471a3").attr("stroke","#000").attr("stroke-width",1.4);
  legendText(p,124.3,292.3,"Track");legendText(p,124.8,308.3,"Launch");legendText(p,124.3,323.3,"Last fix");
  xlabel(p,378,"Longitude (deg)");
  ylabel(p,35.5,"Latitude (deg)");
}

// ---------- summary text ----------
{
  const ys = [50.7,73,94.2,117.6,140.9,163.2,186.5,208.8,232,257.4,277.7];
  svg.append("g").selectAll("text").data(infoLines).join("text").attr("x",1215).attr("y",(d,i)=>ys[i]).attr("text-anchor","middle").attr("dominant-baseline","central").attr("font-size",d=>d[1]).style("fill",d=>d[2]).style("white-space","pre").attr("xml:space","preserve").text(d=>d[0]);
}

// ---------- wind ----------
const tx = d3.scaleUtc().domain([toDate(-.81),toDate(16.72)]).range(col[0]);
{
  const y = d3.scaleLinear().domain([0,51.15]).range([727.3,420.5]);
  const p = panel(0,1,"Wind Speed vs. Time",tx,y,dateVals,windTicks,fmtDate,d=>d,{dy:28});
  const area = d3.area().x(d=>tx(toDate(bandT[d]))).y0(d=>y(bandLo[d])).y1(d=>y(bandHi[d]));
  p.under.append("path").attr("d",area(d3.range(bandT.length))).attr("fill",C.band).attr("fill-opacity",.42).attr("stroke",C.band).attr("stroke-opacity",.42).attr("stroke-width",1);
  p.drawGrid(null,C.grid,.4,1);
  p.over.append("g").selectAll("circle").data(windT).join("circle").attr("cx",d=>tx(toDate(d))).attr("cy",(d,i)=>y(windV[i])).attr("r",2.1).attr("fill",C.dark);
  p.over.append("path").attr("d",d3.line().x(d=>tx(toDate(d))).y((d,i)=>y(dailyWind[i]))(dailyDays)).attr("fill","none").attr("stroke",C.red).attr("stroke-width",2);
  legendBox(p,89.3,425,162.4,50);
  p.frame.append("rect").attr("x",93.3).attr("y",430.5).attr("width",23.4).attr("height",8.5).attr("fill",C.band).attr("fill-opacity",.42).attr("stroke",C.band).attr("stroke-opacity",.42);
  p.frame.append("circle").attr("cx",104).attr("cy",450).attr("r",2.1).attr("fill",C.dark);
  p.frame.append("line").attr("x1",93).attr("x2",116.5).attr("y1",465).attr("y2",465).attr("stroke",C.red).attr("stroke-width",2);
  legendText(p,124.3,435,"±1σ propagated error");legendText(p,124.3,450,"Wind speed");legendText(p,124.3,466,"Daily mean");
  ylabel(p,42,"Wind speed (m s",true);
}

// ---------- latitude ----------
{
  const x = d3.scaleUtc().domain([toDate(-.54),toDate(16.73)]).range(col[1]);
  const y = d3.scaleLinear().domain([-90,90]).range([row[1][1],row[1][0]]);
  const p = panel(1,1,"Latitude vs. Time",x,y,dateVals,latTicks,fmtDate,minus,{dy:28});
  p.drawGrid(null,C.grid,.4,1);
  p.over.append("g").selectAll("circle").data(latT).join("circle").attr("cx",d=>x(toDate(d))).attr("cy",(d,i)=>y(latV[i])).attr("r",2.7).attr("fill","#000");
  ylabel(p,814,"Latitude (deg)");
}

// ---------- altitude ----------
{
  const y = d3.scaleLinear().domain([13052,13936]).range([row[2][1],row[2][0]]);
  const p = panel(0,2,"Balloon Altitude vs. Time",tx,y,dateVals,altTicks,fmtDate,d=>d,{dy:28});
  p.drawGrid(null,C.grid,.4,1);
  const altPts = altTimes.flatMap((ts,i)=>ts.map(t=>[t,altLevels[i]]));
  p.over.append("g").selectAll("circle").data(altPts).join("circle").attr("cx",d=>tx(toDate(d[0]))).attr("cy",d=>y(d[1])).attr("r",2.3).attr("fill",C.grey);
  p.over.append("path").attr("d",d3.line().x(d=>tx(toDate(d))).y((d,i)=>y(dailyAlt[i]))(dailyDays)).attr("fill","none").attr("stroke",C.red).attr("stroke-width",2);
  xlabel(p,1176.5,"UTC date");
  ylabel(p,20.5,"Altitude (m AMSL)");
}

// ---------- histogram ----------
{
  const x = d3.scaleLinear().domain([-100,100]).range(col[1]);
  const y = d3.scaleLinear().domain([0,98.9]).range([row[2][1],row[2][0]]);
  const p = panel(1,2,"U and V Wind Components",x,y,histXTicks,histYTicks,minus,d=>d);
  const bars=(vals,color)=>p.under.append("g").selectAll("rect").data(vals.map((v,i)=>({v,i})).filter(d=>d.v>0)).join("rect")
     .attr("x",d=>x(histEdges[d.i])).attr("width",d=>x(histEdges[d.i+1])-x(histEdges[d.i])).attr("y",d=>y(d.v)).attr("height",d=>y(0)-y(d.v))
     .attr("fill",color).attr("fill-opacity",.65).attr("stroke","#000").attr("stroke-opacity",.7).attr("stroke-width",1.1);
  bars(histU,"#1f77b4");
  bars(histV,"#ff7f0e");
  p.drawGrid(null,C.grid,.4,1);
  legendBox(p,1442.7,814.4,118.5,34);
  [[819.5,"#1f77b4","U (zonal)",824],[834.5,"#ff7f0e","V (meridional)",839.5]].forEach(d=>{
    p.frame.append("rect").attr("x",1446.7).attr("y",d[0]).attr("width",22.3).attr("height",7.8).attr("fill",d[1]).attr("fill-opacity",.65).attr("stroke","#000").attr("stroke-opacity",.7).attr("stroke-width",1.1);
    legendText(p,1477,d[3],d[2]);
  });
  xlabel(p,1159,"Wind speed (m s",true);
  ylabel(p,826,"Frequency");
}
</script></body></html>
